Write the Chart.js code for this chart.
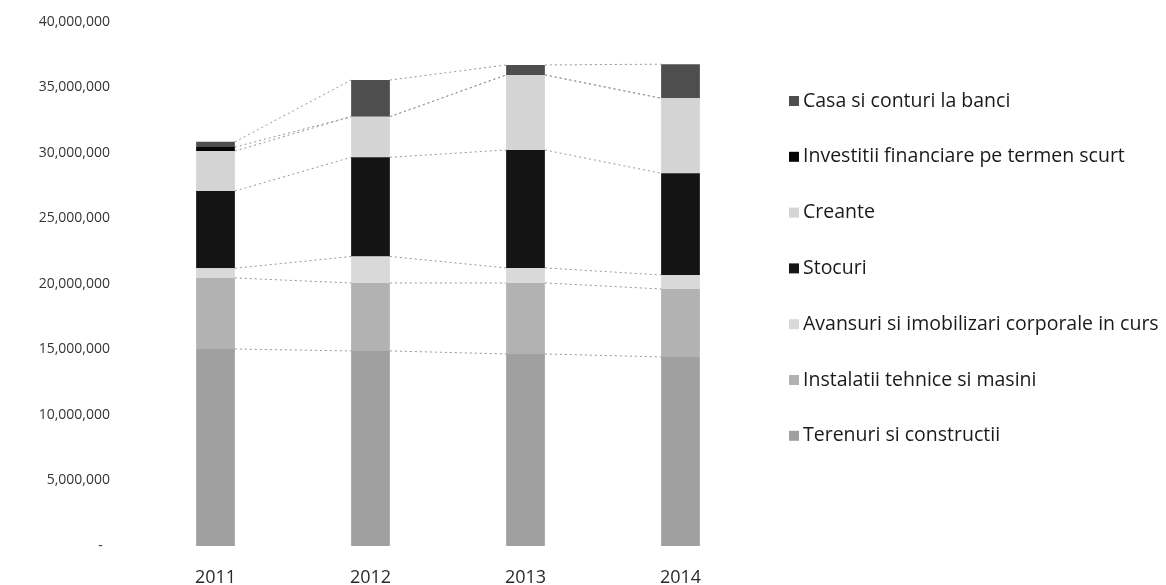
<!DOCTYPE html>
<html>
<head>
<meta charset="utf-8">
<script src="https://cdn.jsdelivr.net/npm/chart.js@4.4.0/dist/chart.umd.min.js"></script>
<style>
  html, body { margin: 0; padding: 0; background: #ffffff; }
  #wrap { width: 1166px; height: 585px; position: relative; }
</style>
</head>
<body>
<div id="wrap"><canvas id="chart" width="1166" height="585"></canvas></div>
<script>
// categories
var years = ["2011", "2012", "2013", "2014"];

// series, listed from the bottom of the stack to the top
var terenuri   = [15040000, 14890000, 14660000, 14430000];
var instalatii = [5420000, 5190000, 5420000, 5190000];
var avansuri   = [740000, 2020000, 1150000, 1070000];
var stocuri    = [5900000, 7570000, 9000000, 7760000];
var creante    = [3050000, 3100000, 5730000, 5730000];
var investitii = [300000, 0, 0, 0];
var casa       = [400000, 2800000, 760000, 2600000];

var yTicks = [0, 5000000, 10000000, 15000000, 20000000, 25000000, 30000000, 35000000, 40000000];

var datasets = [
    { label: "Terenuri si constructii", data: terenuri, backgroundColor: "#a0a0a0" },
    { label: "Instalatii tehnice si masini", data: instalatii, backgroundColor: "#b2b2b2" },
    { label: "Avansuri si imobilizari corporale in curs", data: avansuri, backgroundColor: "#d9d9d9" },
    { label: "Stocuri", data: stocuri, backgroundColor: "#141414" },
    { label: "Creante", data: creante, backgroundColor: "#d4d4d4" },
    { label: "Investitii financiare pe termen scurt", data: investitii, backgroundColor: "#050505" },
    { label: "Casa si conturi la banci", data: casa, backgroundColor: "#4e4e4e" }
];

// dotted lines between the tops of each series, like Excel "series lines"
var seriesLines = {
    id: "seriesLines",
    afterDatasetsDraw: function (chart) {
        var ctx = chart.ctx;
        ctx.save();
        ctx.strokeStyle = "#969696";
        ctx.lineWidth = 1;
        ctx.setLineDash([2, 3]);
        for (var d = 0; d < chart.data.datasets.length; d++) {
            var bars = chart.getDatasetMeta(d).data;
            for (var i = 0; i < bars.length - 1; i++) {
                var a = bars[i], b = bars[i + 1];
                ctx.beginPath();
                ctx.moveTo(a.x + a.width / 2, a.y);
                ctx.lineTo(b.x - b.width / 2, b.y);
                ctx.stroke();
            }
        }
        ctx.restore();
    }
};

// legend on the right, top entry is the top of the stack
var sideLegend = {
    id: "sideLegend",
    afterDraw: function (chart) {
        var ctx = chart.ctx;
        var ds = chart.data.datasets;
        ctx.save();
        ctx.font = "19.5px 'Open Sans'";
        ctx.textBaseline = "middle";
        ctx.textAlign = "left";
        for (var k = 0; k < ds.length; k++) {
            var item = ds[ds.length - 1 - k];
            var y = 101 + k * 55.8;
            ctx.fillStyle = item.backgroundColor;
            ctx.fillRect(789, y - 5, 10, 10);
            ctx.fillStyle = "#1a1a1a";
            ctx.fillText(item.label, 803, y);
        }
        ctx.restore();
    }
};

var chart = new Chart(document.getElementById("chart"), {
    type: "bar",
    data: { labels: years, datasets: datasets },
    options: {
        responsive: false,
        animation: false,
        devicePixelRatio: 1,
        layout: { autoPadding: false, padding: { left: 0, right: 408, top: 22, bottom: 0 } },
        datasets: { bar: { barPercentage: 0.25, categoryPercentage: 1, borderWidth: 0 } },
        plugins: { legend: { display: false }, tooltip: { enabled: false } },
        scales: {
            x: {
                stacked: true,
                grid: { display: false, drawTicks: false },
                border: { display: false },
                ticks: { padding: 21, color: "#2a2a2a", font: { family: "Open Sans", size: 18 } },
                afterFit: function (scale) { scale.height = 39; }
            },
            y: {
                stacked: true,
                min: 0,
                max: 40000000,
                grid: { display: false, drawTicks: false },
                border: { display: false },
                afterBuildTicks: function (scale) {
                    scale.ticks = yTicks.map(function (v) { return { value: v }; });
                },
                ticks: {
                    padding: 28,
                    color: "#353535",
                    font: { family: "Open Sans", size: 14 },
                    callback: function (v) { return v === 0 ? "-  " : v.toLocaleString("en-US"); }
                },
                afterFit: function (scale) {
                    scale.width = 138;
                    scale.paddingTop = 0;
                    scale.paddingBottom = 0;
                }
            }
        }
    },
    plugins: [seriesLines, sideLegend]
});
</script>
</body>
</html>
